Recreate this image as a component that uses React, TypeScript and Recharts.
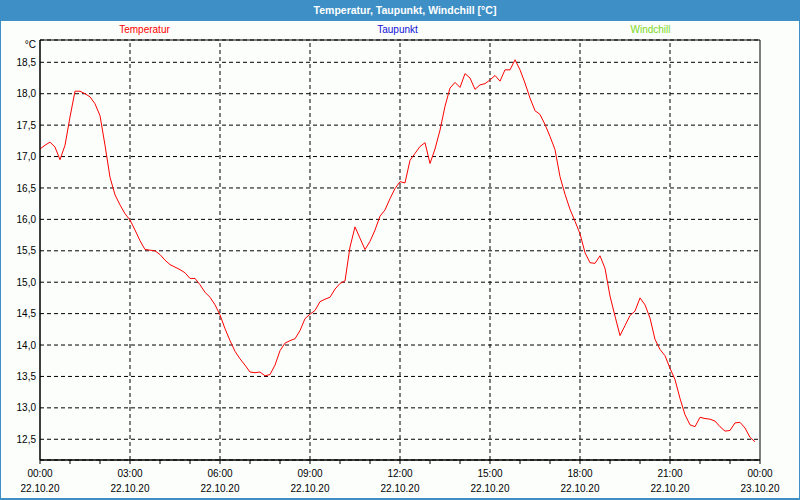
import React from "react";
import {
  LineChart,
  Line,
  XAxis,
  YAxis,
  CartesianGrid,
  ReferenceLine,
  ReferenceArea,
} from "recharts";

// Temperatur, 22.10.20, one reading every 10 minutes from 00:00
const temperatur = [
  17.12, 17.18, 17.23, 17.15, 16.95, 17.18, 17.63, 18.04, 18.04, 18.0,
  17.95, 17.84, 17.65, 17.18, 16.67, 16.39, 16.23, 16.09, 15.99, 15.83,
  15.66, 15.52, 15.51, 15.5, 15.44, 15.35, 15.28, 15.24, 15.2, 15.15,
  15.06, 15.06, 14.96, 14.84, 14.76, 14.64, 14.48, 14.26, 14.07, 13.9,
  13.78, 13.68, 13.57, 13.56, 13.57, 13.51, 13.53, 13.68, 13.91, 14.03,
  14.07, 14.1, 14.23, 14.42, 14.49, 14.55, 14.69, 14.73, 14.76, 14.89,
  14.98, 15.02, 15.56, 15.88, 15.7, 15.52, 15.65, 15.83, 16.05, 16.15,
  16.33, 16.49, 16.6, 16.58, 16.94, 17.05, 17.16, 17.22, 16.89, 17.12,
  17.42, 17.8, 18.09, 18.18, 18.1, 18.32, 18.25, 18.07, 18.14, 18.16,
  18.22, 18.29, 18.2, 18.38, 18.38, 18.54, 18.38, 18.17, 17.93, 17.73,
  17.67, 17.51, 17.32, 17.11, 16.68, 16.4, 16.16, 15.97, 15.77, 15.47,
  15.31, 15.3, 15.42, 15.22, 14.78, 14.46, 14.15, 14.31, 14.47, 14.54,
  14.75, 14.64, 14.43, 14.09, 13.93, 13.83, 13.63, 13.45, 13.15, 12.89,
  12.73, 12.7, 12.85, 12.83, 12.82, 12.79, 12.7, 12.63, 12.64, 12.76,
  12.77, 12.68, 12.53, 12.46,
];
// no readings for these two
const taupunkt: number[] = [];
const windchill: number[] = [];

const seriesNames = ["Temperatur", "Taupunkt", "Windchill"];
const seriesColors = ["#ff0000", "#1010d8", "#7cd81c"];

const yTicks = [12.5, 13, 13.5, 14, 14.5, 15, 15.5, 16, 16.5, 17, 17.5, 18, 18.5];
const hourTicks = [
  0, 60, 120, 180, 240, 300, 360, 420, 480, 540, 600, 660, 720, 780, 840,
  900, 960, 1020, 1080, 1140, 1200, 1260, 1320, 1380, 1440,
];
const majorTicks = [0, 180, 360, 540, 720, 900, 1080, 1260, 1440];
const timeLabels = ["00:00", "03:00", "06:00", "09:00", "12:00", "15:00", "18:00", "21:00", "00:00"];
const dateLabels = [
  "22.10.20", "22.10.20", "22.10.20", "22.10.20", "22.10.20",
  "22.10.20", "22.10.20", "22.10.20", "23.10.20",
];

const Y_MIN = 12.17;
const Y_MAX = 18.855;
const FONT = "'Liberation Sans', Arial, sans-serif";
const BLUE = "#3d8fc6";
const BG = "#fbfefb";

const data = temperatur.map((v, i) => ({
  minute: i * 10,
  temperatur: v,
  taupunkt: taupunkt[i],
  windchill: windchill[i],
}));

function TimeTick(props: any) {
  const { x, y, payload } = props;
  const i = majorTicks.indexOf(payload.value);
  if (i < 0) return null;
  return (
    <g fontFamily={FONT} fontSize={10} fill="#000">
      <text x={x} y={y + 11} textAnchor="middle">
        {timeLabels[i]}
      </text>
      <text x={x} y={y + 26} textAnchor="middle">
        {dateLabels[i]}
      </text>
    </g>
  );
}

function UnitLabel(props: any) {
  const { viewBox } = props;
  return (
    <text
      x={viewBox.x + viewBox.width - 4}
      y={viewBox.y + 8}
      textAnchor="end"
      fontFamily={FONT}
      fontSize={10}
      fill="#000"
    >
      °C
    </text>
  );
}

export default function App() {
  return (
    <div
      style={{
        position: "absolute",
        left: 0,
        top: 0,
        width: 800,
        height: 500,
        background: BG,
        fontFamily: FONT,
      }}
    >
      <LineChart
        width={800}
        height={500}
        data={data}
        margin={{ top: 40, right: 40, bottom: 0, left: 0 }}
      >
        <CartesianGrid
          vertical={false}
          stroke="#000"
          strokeDasharray="4 3"
        />
        {majorTicks.slice(1, -1).map((m) => (
          <ReferenceLine key={m} x={m} stroke="#000" strokeDasharray="4 3" />
        ))}
        <ReferenceArea
          x1={0}
          x2={1440}
          y1={Y_MIN}
          y2={Y_MAX}
          fill="none"
          stroke="#000"
          strokeWidth={1}
        />
        <XAxis
          dataKey="minute"
          type="number"
          domain={[0, 1440]}
          ticks={hourTicks}
          interval={0}
          height={40}
          tickSize={4}
          tickMargin={2}
          stroke="#000"
          tick={<TimeTick />}
        />
        <YAxis
          type="number"
          domain={[Y_MIN, Y_MAX]}
          ticks={yTicks}
          interval={0}
          width={40}
          tickLine={false}
          tickSize={0}
          tickMargin={4}
          stroke="#000"
          tick={{ fontSize: 10, fill: "#000", fontFamily: FONT }}
          tickFormatter={(v: number) => v.toFixed(1).replace(".", ",")}
          label={UnitLabel}
        />
        <Line
          type="linear"
          dataKey="temperatur"
          name={seriesNames[0]}
          stroke={seriesColors[0]}
          strokeWidth={1}
          dot={false}
          isAnimationActive={false}
        />
        <Line
          type="linear"
          dataKey="taupunkt"
          name={seriesNames[1]}
          stroke={seriesColors[1]}
          strokeWidth={1}
          dot={false}
          isAnimationActive={false}
        />
        <Line
          type="linear"
          dataKey="windchill"
          name={seriesNames[2]}
          stroke={seriesColors[2]}
          strokeWidth={1}
          dot={false}
          isAnimationActive={false}
        />
      </LineChart>

      {/* legend row */}
      <div
        style={{
          position: "absolute",
          left: 18,
          top: 24,
          width: 759,
          display: "flex",
          fontSize: 10,
        }}
      >
        {seriesNames.map((n, i) => (
          <div key={n} style={{ flex: 1, textAlign: "center", color: seriesColors[i] }}>
            {n}
          </div>
        ))}
      </div>

      {/* title bar */}
      <div
        style={{
          position: "absolute",
          left: 0,
          top: 0,
          width: 800,
          height: 21,
          lineHeight: "20px",
          background: BLUE,
          color: "#fff",
          fontWeight: "bold",
          fontSize: 10.5,
          textAlign: "center",
          paddingLeft: 10,
          boxSizing: "border-box",
        }}
      >
        Temperatur, Taupunkt, Windchill [°C]
      </div>

      {/* window frame */}
      <div
        style={{
          position: "absolute",
          left: 0,
          top: 0,
          width: 800,
          height: 500,
          boxSizing: "border-box",
          borderLeft: `1px solid ${BLUE}`,
          borderRight: `1px solid ${BLUE}`,
          borderBottom: `2px solid ${BLUE}`,
          pointerEvents: "none",
        }}
      />
    </div>
  );
}
